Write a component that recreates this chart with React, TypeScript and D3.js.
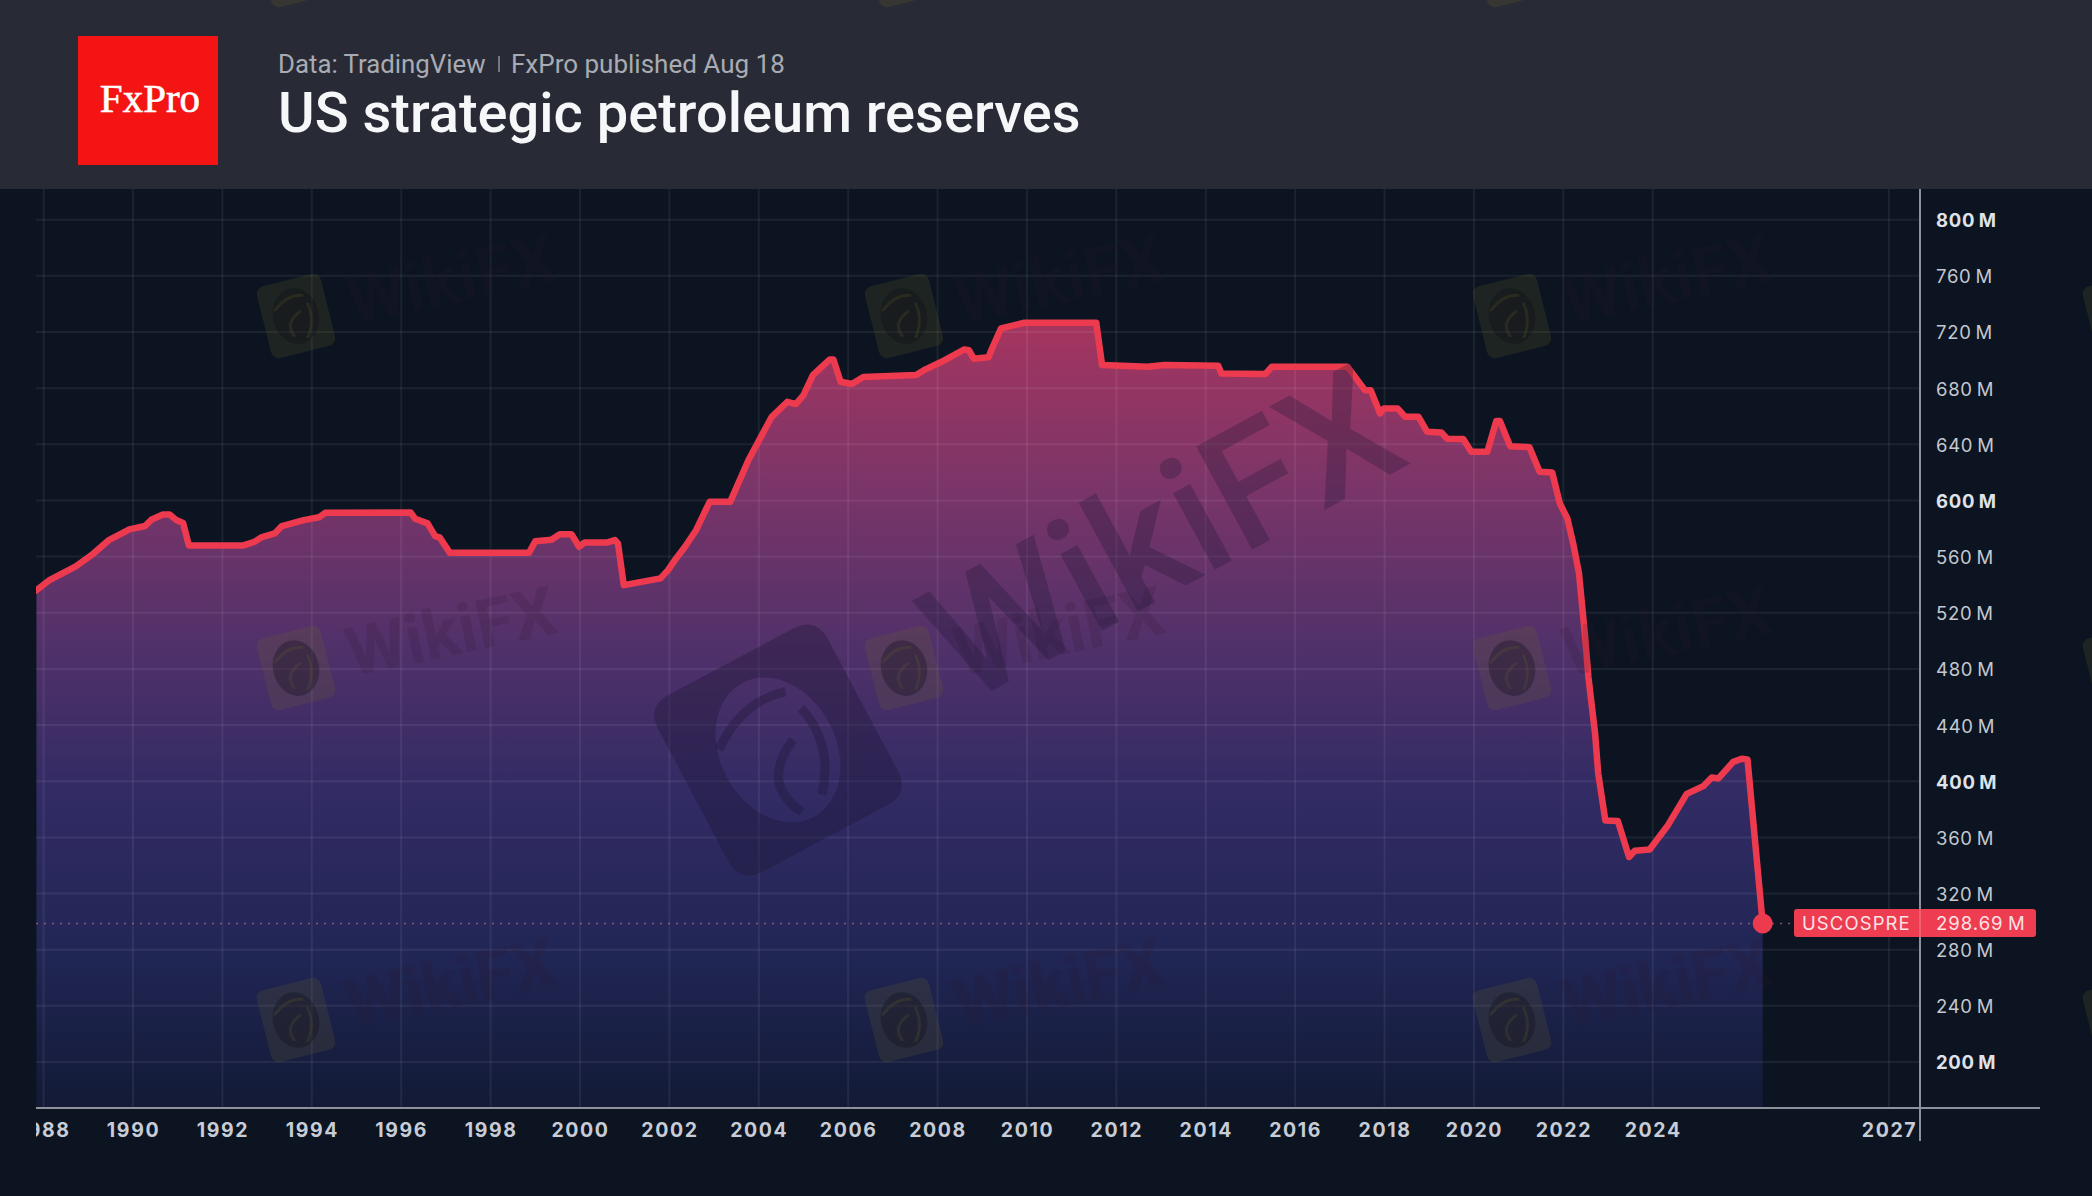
import { useEffect, useRef } from 'react'
import * as d3 from 'd3'

const reserveYears = [
  1987.84, 1988.12, 1988.72, 1989.07, 1989.47, 1989.92, 1990.27, 1990.42, 1990.67, 1990.82,
  1990.97, 1991.12, 1991.25, 1992.47, 1992.72, 1992.87, 1993.17, 1993.33, 1993.82, 1994.16,
  1994.3, 1996.21, 1996.31, 1996.59, 1996.76, 1996.86, 1997.09, 1998.86, 1999.0, 1999.36,
  1999.55, 1999.81, 1999.98, 2000.1, 2000.6, 2000.78, 2000.85, 2000.98, 2001.8, 2001.97,
  2002.15, 2002.35, 2002.6, 2002.9, 2003.36, 2003.77, 2004.29, 2004.64, 2004.83, 2005.0,
  2005.21, 2005.59, 2005.67, 2005.83, 2006.08, 2006.34, 2007.52, 2007.73, 2008.09, 2008.6,
  2008.7, 2008.81, 2009.14, 2009.22, 2009.42, 2009.94, 2011.55, 2011.68, 2012.7, 2013.07,
  2014.28, 2014.35, 2015.33, 2015.48, 2017.17, 2017.56, 2017.69, 2017.9, 2017.99, 2018.29,
  2018.46, 2018.76, 2018.95, 2019.27, 2019.4, 2019.76, 2019.94, 2020.3, 2020.5, 2020.58,
  2020.81, 2021.24, 2021.47, 2021.75, 2021.92, 2022.09, 2022.22, 2022.35, 2022.48, 2022.56,
  2022.71, 2022.78, 2022.94, 2023.22, 2023.47, 2023.6, 2023.93, 2024.34, 2024.76, 2025.13,
  2025.32, 2025.47, 2025.8, 2025.99, 2026.12, 2026.46,
]
const reserveValues = [
  536, 543, 553, 561, 572, 579.4, 581.8, 586.5, 590, 590,
  586, 584, 568, 568, 570.6, 573.7, 576.5, 581.8, 586, 588,
  591.2, 591.5, 587, 583.7, 574.6, 573.7, 562.7, 562.7, 571, 572,
  576, 576, 567, 570, 570, 571.8, 569.4, 539.7, 544.5, 550.4,
  558.7, 567, 579, 599, 599, 628.8, 659.6, 670.3, 668.7, 675,
  689.3, 700.5, 700.5, 684.6, 683, 688, 689.3, 693.4, 698.8, 707.6,
  707, 701, 702, 708.4, 722.6, 726.6, 726.6, 696.5, 695.3, 696.5,
  696, 690.5, 690, 695.3, 695.3, 678.6, 678.6, 662, 665.6, 665.6,
  659.6, 659.6, 649, 648.5, 644, 643.7, 634.7, 634.7, 656.6, 656.6,
  638.7, 638, 620.5, 620, 598, 587.2, 569.4, 548, 505.3, 474.4,
  434, 405.6, 372, 371.6, 346, 350.5, 351.4, 368.7, 391, 396.5,
  402.7, 402, 413.8, 416, 415.5, 298.69,
]
const yearTicks = [
  1988, 1990, 1992, 1994, 1996, 1998, 2000, 2002, 2004, 2006, 2008, 2010, 2012, 2014, 2016,
  2018, 2020, 2022, 2024, 2027,
]
const valueTicks = [200, 240, 280, 320, 360, 400, 440, 480, 520, 560, 600, 640, 680, 720, 760, 800]
const boldValues = [200, 400, 600, 800]
const lastLabel = 'USCOSPRE'
const lastValue = 298.69

const W = 2092
const H = 1196

export default function App() {
  const svgRef = useRef<SVGSVGElement>(null)

  useEffect(() => {
    const svg = d3.select(svgRef.current)
    svg.selectAll('*').remove()

    const left = 36
    const axisX = 1920
    const top = 189
    const bottom = 1108

    // the time axis is bar based, so the future part has its own spacing
    const x = d3
      .scaleLinear()
      .domain([1988, 2026.46, 2027])
      .range([43.6, 1762.7, 1889])
    const y = d3.scaleLinear().domain([200, 800]).range([1062, 219.7])

    const sans = 'Inter, Roboto, sans-serif'

    // Background
    const defs = svg.append('defs')
    const grad = defs
      .append('linearGradient')
      .attr('id', 'areaFill')
      .attr('gradientUnits', 'userSpaceOnUse')
      .attr('x1', 0)
      .attr('x2', 0)
      .attr('y1', 322)
      .attr('y2', bottom)
    const stops: [number, string][] = [
      [0, '#a5355f'],
      [0.2, '#7d3568'],
      [0.4, '#53316a'],
      [0.6, '#322b64'],
      [0.8, '#212655'],
      [1, '#121a36'],
    ]
    stops.forEach(([o, c]) => grad.append('stop').attr('offset', o).attr('stop-color', c))

    defs
      .append('clipPath')
      .attr('id', 'plotClip')
      .append('rect')
      .attr('x', left)
      .attr('y', top)
      .attr('width', axisX - left)
      .attr('height', bottom - top)
    defs
      .append('clipPath')
      .attr('id', 'axisClip')
      .append('rect')
      .attr('x', left)
      .attr('y', bottom)
      .attr('width', axisX - left)
      .attr('height', H - bottom)

    svg.append('rect').attr('width', W).attr('height', H).attr('fill', '#0b1420')

    // Area and line
    const points = reserveYears.map((yr, i) => [yr, reserveValues[i]] as [number, number])
    const plot = svg.append('g').attr('clip-path', 'url(#plotClip)')

    const areaGen = d3
      .area<[number, number]>()
      .x((d) => x(d[0]))
      .y0(bottom)
      .y1((d) => y(d[1]))
    plot.append('path').datum(points).attr('fill', 'url(#areaFill)').attr('d', areaGen)

    // Grid lines
    plot
      .selectAll('.grid-y')
      .data(valueTicks)
      .enter()
      .append('line')
      .attr('x1', left)
      .attr('x2', axisX)
      .attr('y1', (d) => y(d))
      .attr('y2', (d) => y(d))
      .attr('stroke', 'rgba(255,255,255,0.065)')
      .attr('stroke-width', 2)
    plot
      .selectAll('.grid-x')
      .data(yearTicks)
      .enter()
      .append('line')
      .attr('x1', (d) => x(d))
      .attr('x2', (d) => x(d))
      .attr('y1', top)
      .attr('y2', bottom)
      .attr('stroke', 'rgba(255,255,255,0.065)')
      .attr('stroke-width', 2)

    // Last value guide
    plot
      .append('line')
      .attr('x1', left)
      .attr('x2', 1794)
      .attr('y1', y(lastValue))
      .attr('y2', y(lastValue))
      .attr('stroke', '#d9708a')
      .attr('stroke-opacity', 0.6)
      .attr('stroke-width', 1.5)
      .attr('stroke-dasharray', '2,6')

    const lineGen = d3
      .line<[number, number]>()
      .x((d) => x(d[0]))
      .y((d) => y(d[1]))
    plot
      .append('path')
      .datum(points)
      .attr('fill', 'none')
      .attr('stroke', '#ee3a4e')
      .attr('stroke-width', 6.5)
      .attr('stroke-linejoin', 'round')
      .attr('stroke-linecap', 'round')
      .attr('d', lineGen)

    svg
      .append('circle')
      .attr('cx', x(2026.46))
      .attr('cy', y(lastValue))
      .attr('r', 10)
      .attr('fill', '#ee3a4e')

    // Axes
    const yAxis = svg
      .append('g')
      .attr('transform', `translate(${axisX},1)`)
      .call(
        d3
          .axisRight(y)
          .tickValues(valueTicks)
          .tickSize(0)
          .tickPadding(16)
          .tickFormat((d) => `${d}\u2009M`)
      )
    yAxis.select('.domain').remove()
    yAxis
      .selectAll<SVGTextElement, number>('.tick text')
      .attr('fill', (d) => (boldValues.includes(d) ? '#dfe2e8' : '#c3c7cf'))
      .style('font-family', sans)
      .style('font-size', '18.5px')
      .style('letter-spacing', '0.7px')
      .style('font-weight', (d) => (boldValues.includes(d) ? '700' : '400'))

    const xAxis = svg
      .append('g')
      .attr('clip-path', 'url(#axisClip)')
      .append('g')
      .attr('transform', `translate(0,${bottom})`)
      .call(
        d3
          .axisBottom(x)
          .tickValues(yearTicks)
          .tickSize(0)
          .tickPadding(15)
          .tickFormat((d) => `${d}`)
      )
    xAxis.select('.domain').remove()
    xAxis
      .selectAll('.tick text')
      .attr('fill', '#c8ccd6')
      .style('font-family', sans)
      .style('font-size', '19.5px')
      .style('font-weight', '700')
      .style('letter-spacing', '1.6px')

    svg
      .append('line')
      .attr('x1', left)
      .attr('x2', 2040)
      .attr('y1', bottom)
      .attr('y2', bottom)
      .attr('stroke', '#8d929c')
      .attr('stroke-width', 2)
    svg
      .append('line')
      .attr('x1', axisX)
      .attr('x2', axisX)
      .attr('y1', top)
      .attr('y2', 1141)
      .attr('stroke', '#8d929c')
      .attr('stroke-width', 2)

    // Last value tag
    svg
      .append('rect')
      .attr('x', 1794)
      .attr('y', 909)
      .attr('width', 242)
      .attr('height', 28)
      .attr('rx', 3)
      .attr('fill', '#ee3c50')
    svg
      .append('line')
      .attr('x1', axisX)
      .attr('x2', axisX)
      .attr('y1', 909)
      .attr('y2', 937)
      .attr('stroke', 'rgba(255,255,255,0.18)')
      .attr('stroke-width', 2)
    svg
      .append('text')
      .attr('x', 1802)
      .attr('y', 929.5)
      .attr('fill', '#fbe3e6')
      .style('font-family', sans)
      .style('font-size', '18.5px')
      .style('letter-spacing', '1.1px')
      .text(lastLabel)
    svg
      .append('text')
      .attr('x', 1936)
      .attr('y', 929.5)
      .attr('fill', '#fbe3e6')
      .style('font-family', sans)
      .style('font-size', '18.5px')
      .style('letter-spacing', '1px')
      .text(`${lastValue}\u2009M`)

    // Header
    svg.append('rect').attr('width', W).attr('height', top).attr('fill', '#282b36')
    svg.append('rect').attr('x', 78).attr('y', 36).attr('width', 140).attr('height', 129).attr('fill', '#f41414')
    svg
      .append('text')
      .attr('x', 150)
      .attr('y', 111.5)
      .attr('text-anchor', 'middle')
      .attr('fill', '#fff')
      .attr('stroke', '#fff')
      .attr('stroke-width', 0.6)
      .style('font-family', '"Liberation Serif", serif')
      .style('font-size', '41px')
      .text('FxPro')
    svg
      .append('text')
      .attr('x', 278)
      .attr('y', 72.5)
      .attr('fill', '#a9abb3')
      .style('font-family', 'Roboto, sans-serif')
      .style('font-size', '25.8px')
      .text('Data: TradingView')
    svg
      .append('line')
      .attr('x1', 499)
      .attr('x2', 499)
      .attr('y1', 56)
      .attr('y2', 72)
      .attr('stroke', '#8f919a')
      .attr('stroke-width', 1.5)
    svg
      .append('text')
      .attr('x', 511)
      .attr('y', 72.5)
      .attr('fill', '#a9abb3')
      .style('font-family', 'Roboto, sans-serif')
      .style('font-size', '26px')
      .text('FxPro published Aug 18')
    svg
      .append('text')
      .attr('x', 278)
      .attr('y', 131.5)
      .attr('fill', '#f6f7f9')
      .style('font-family', 'Roboto, sans-serif')
      .style('font-size', '56px')
      .style('font-weight', '500')
      .text('US strategic petroleum reserves')

    // Watermarks
    const mark = svg.append('g').style('pointer-events', 'none')
    const olive = 'rgba(110,100,40,0.2)'
    const smallLogo = (cx: number, cy: number) => {
      const logo = mark.append('g').attr('transform', `translate(${cx},${cy}) rotate(-14)`)
      logo
        .append('rect')
        .attr('x', -33)
        .attr('y', -37)
        .attr('width', 66)
        .attr('height', 74)
        .attr('rx', 8)
        .attr('fill', olive)
      logo.append('ellipse').attr('rx', 23).attr('ry', 28).attr('fill', 'rgba(15,15,30,0.34)')
      logo
        .append('path')
        .attr('d', 'M-20,-10 Q-2,-24 12,-18 M-6,20 Q-14,4 6,-4 M14,-10 Q18,8 6,24')
        .attr('fill', 'none')
        .attr('stroke', olive)
        .attr('stroke-width', 3)
    }
    const columns = [296, 904, 1512]
    const rows = [316, 668, 1020]
    rows.forEach((r) =>
      columns.forEach((c) => {
        smallLogo(c, r)
        mark
          .append('text')
          .attr('transform', `translate(${c},${r}) rotate(-12) translate(53,20)`)
          .attr('fill', 'rgba(45,25,45,0.17)')
          .style('font-family', 'Roboto, sans-serif')
          .style('font-weight', '700')
          .style('font-size', '68px')
          .text('WikiFX')
      })
    )
    // logos that only just enter the picture
    columns.forEach((c) => smallLogo(c, -35))
    rows.forEach((r) => smallLogo(2122, r))

    // Big centre mark: a frame around a see-through eagle
    const big = mark.append('g').attr('transform', 'translate(778,750)')
    const bigFill = 'rgba(25,20,50,0.34)'
    const bigLogo = big.append('g').attr('transform', 'rotate(-28)')
    bigLogo
      .append('path')
      .attr('fill-rule', 'evenodd')
      .attr('fill', bigFill)
      .attr(
        'd',
        'M-70,-100 H70 Q96,-100 96,-74 V74 Q96,100 70,100 H-70 Q-96,100 -96,74 V-74 Q-96,-100 -70,-100 Z ' +
          'M0,-76 A58,76 0 1,0 0,76 A58,76 0 1,0 0,-76 Z'
      )
    bigLogo
      .append('path')
      .attr('d', 'M-52,-28 Q-10,-60 34,-48 M-8,66 Q-32,22 18,-2 M40,-26 Q52,20 18,60')
      .attr('fill', 'none')
      .attr('stroke', bigFill)
      .attr('stroke-width', 9)
    big
      .append('text')
      .attr('transform', 'rotate(-28.5) translate(185,50)')
      .attr('fill', 'rgba(25,20,50,0.28)')
      .style('font-family', 'Roboto, sans-serif')
      .style('font-weight', '500')
      .style('font-size', '165px')
      .text('WikiFX')
  }, [])

  return (
    <svg
      ref={svgRef}
      width={W}
      height={H}
      style={{ position: 'absolute', top: 0, left: 0, display: 'block' }}
    />
  )
}
